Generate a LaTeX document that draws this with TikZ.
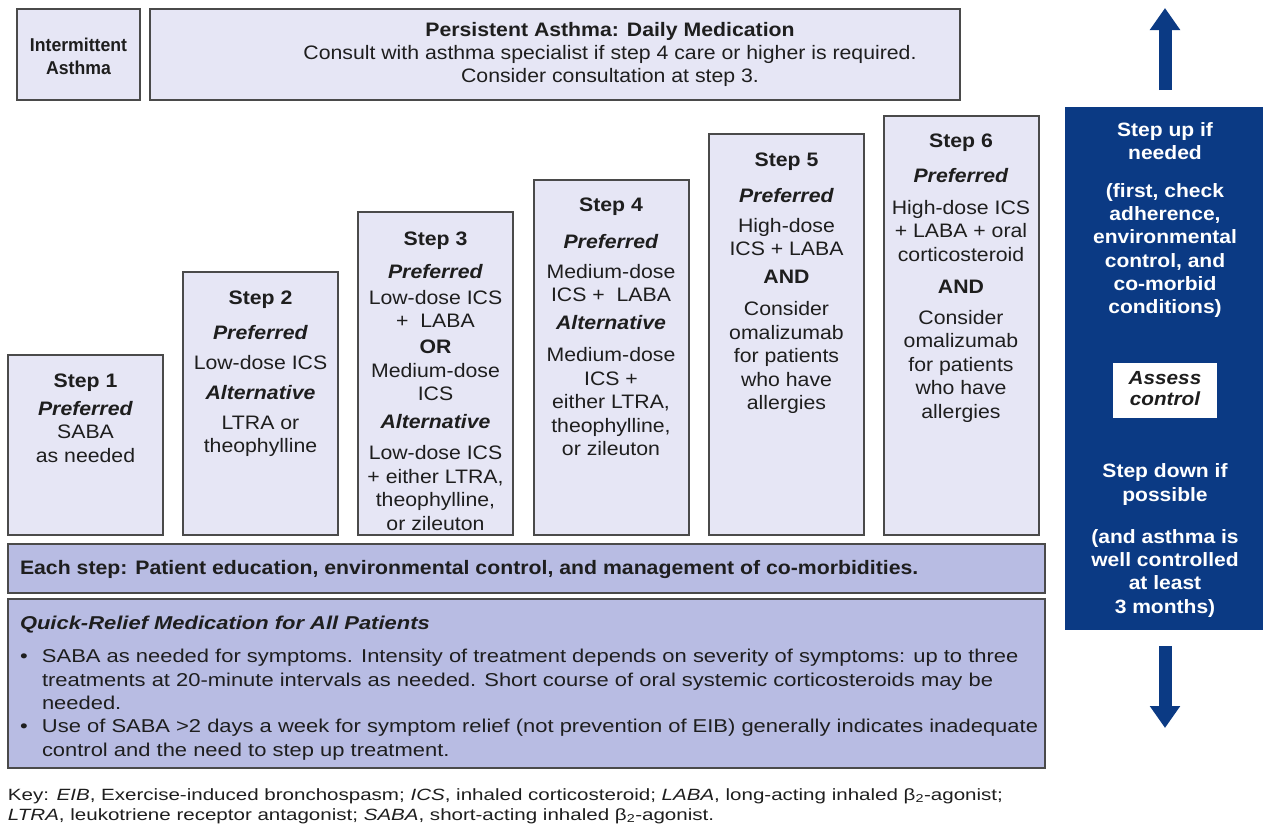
\documentclass[tikz,border=0pt]{standalone}
\usepackage{fontspec}
\setmainfont{Liberation Sans}
\newfontfamily\boxfont{Liberation Sans}[FakeStretch=1.09]
\newfontfamily\quickfont{Liberation Sans}[FakeStretch=1.18]
\newfontfamily\keyfont{Liberation Sans}[FakeStretch=1.26]
\newfontfamily\narrowfont{Liberation Sans}[FakeStretch=0.95]
\usetikzlibrary{arrows.meta}
\definecolor{panel}{HTML}{E6E6F5}
\definecolor{band}{HTML}{B8BCE3}
\definecolor{navy}{HTML}{0B3A84}
\definecolor{edge}{HTML}{4A4A4A}
\definecolor{ink}{HTML}{1E1E1E}
\begin{document}
\begin{tikzpicture}[x=1pt,y=-1pt,
  every node/.style={inner sep=0pt, outer sep=0pt},
  panelbox/.style={draw=edge, line width=1.5pt, fill=panel, anchor=north west},
  bandbox/.style={draw=edge, line width=1.5pt, fill=band, anchor=north west},
  body/.style={font=\boxfont\fontsize{19.5}{23.5}\selectfont, text=ink, align=center},
  navytext/.style={font=\boxfont\fontsize{19.3}{23.3}\selectfont\bfseries, text=white, align=center},
  bigarrow/.style={draw=navy, line width=13pt, -{Triangle[width=29pt,length=22pt]}}
]
\fill[white] (0,0) rectangle (1264,827);
\useasboundingbox (0,0) rectangle (1264,827);

% header boxes
\node[panelbox, minimum width=123pt, minimum height=91pt] (inter) at (17,9) {};
\node[body, font=\narrowfont\fontsize{18.6}{23}\selectfont\bfseries] (intertext) at (78.5,56.5) {Intermittent\\Asthma};
\node[panelbox, minimum width=810pt, minimum height=91pt] (persist) at (150,9) {};
\node[body, font=\boxfont\fontsize{19.5}{23}\selectfont] (persisttext) at (610,54) {\textbf{Persistent Asthma: Daily Medication}\\
  Consult with asthma specialist if step 4 care or higher is required.\\
  Consider consultation at step 3.};

% the six steps
\node[panelbox, minimum width=155pt, minimum height=180pt] (s1) at (8,355) {};
\node[panelbox, minimum width=155pt, minimum height=263pt] (s2) at (183,272) {};
\node[panelbox, minimum width=155pt, minimum height=323pt] (s3) at (358,212) {};
\node[panelbox, minimum width=155pt, minimum height=355pt] (s4) at (534,180) {};
\node[panelbox, minimum width=155pt, minimum height=401pt] (s5) at (709,134) {};
\node[panelbox, minimum width=155pt, minimum height=419pt] (s6) at (884,116) {};

\node[body, anchor=north] (s1text) at (85.5,373.5) {\textbf{Step 1}\\[4.5pt]
  \textbf{\textit{Preferred}}\\ SABA\\ as needed};
\node[body, anchor=north] (s2text) at (260.5,290.5) {\textbf{Step 2}\\[11.5pt]
  \textbf{\textit{Preferred}}\\[6.5pt] Low-dose ICS\\[6.5pt]
  \textbf{\textit{Alternative}}\\[6.5pt] LTRA or\\ theophylline};
\node[body, anchor=north] (s3text) at (435.5,231.5) {\textbf{Step 3}\\[9.5pt]
  \textbf{\textit{Preferred}}\\[2.5pt] Low-dose ICS\\ +\ \ LABA\\[2.5pt]
  \textbf{OR}\\ Medium-dose\\ ICS\\[4.5pt]
  \textbf{\textit{Alternative}}\\[7.5pt] Low-dose ICS\\ + either LTRA,\\
  theophylline,\\ or zileuton};
\node[body, anchor=north] (s4text) at (611,197.5) {\textbf{Step 4}\\[13.5pt]
  \textbf{\textit{Preferred}}\\[6.5pt] Medium-dose\\ ICS +\ \ LABA\\[4.5pt]
  \textbf{\textit{Alternative}}\\[8.5pt] Medium-dose\\ ICS +\\ either LTRA,\\
  theophylline,\\ or zileuton};
\node[body, anchor=north] (s5text) at (786.5,152.5) {\textbf{Step 5}\\[12.5pt]
  \textbf{\textit{Preferred}}\\[6.5pt] High-dose\\ ICS + LABA\\[4.5pt]
  \textbf{AND}\\[8.5pt] Consider\\ omalizumab\\ for patients\\ who have\\ allergies};
\node[body, anchor=north] (s6text) at (961,133.5) {\textbf{Step 6}\\[11.5pt]
  \textbf{\textit{Preferred}}\\[8.5pt] High-dose ICS\\ + LABA + oral\\ corticosteroid\\[8.5pt]
  \textbf{AND}\\[7.5pt] Consider\\ omalizumab\\ for patients\\ who have\\ allergies};

% lower bands
\node[bandbox, minimum width=1037pt, minimum height=49pt] (each) at (8,544) {};
\node[body, anchor=west, font=\boxfont\fontsize{19.5}{23}\selectfont\bfseries] (eachtext) at (20,569)
  {Each step: Patient education, environmental control, and management of co-morbidities.};
\node[bandbox, minimum width=1037pt, minimum height=169pt] (quick) at (8,599) {};
\node[body, anchor=west, font=\quickfont\fontsize{18.6}{23}\selectfont\bfseries\itshape] (quicktitle) at (20,625)
  {Quick-Relief Medication for All Patients};
\node[body, anchor=north west, align=left, font=\quickfont\fontsize{18.6}{23.3}\selectfont] (quicktext) at (20,649.5)
  {\makebox[22pt][l]{\textbullet}SABA as needed for symptoms. Intensity of treatment depends on severity of symptoms: up to three\\
   \hspace*{22pt}treatments at 20-minute intervals as needed. Short course of oral systemic corticosteroids may be\\
   \hspace*{22pt}needed.\\
   \makebox[22pt][l]{\textbullet}Use of SABA >2 days a week for symptom relief (not prevention of EIB) generally indicates inadequate\\
   \hspace*{22pt}control and the need to step up treatment.};

% step up / step down column
\node[fill=navy, anchor=north west, minimum width=198pt, minimum height=523pt] (ctrl) at (1065,107) {};
\node[navytext] (uptext) at (1165,220) {Step up if\\ needed\\[14.5pt]
  (first, check\\ adherence,\\ environmental\\ control, and\\ co-morbid\\ conditions)};
\node[fill=white, anchor=north west, minimum width=104pt, minimum height=55pt] (assess) at (1113,363) {};
\node[body, font=\boxfont\fontsize{19}{21}\selectfont\bfseries\itshape] (assesstext) at (1165,388.5) {Assess\\ control};
\node[navytext] (downtext) at (1165,540.5) {Step down if\\ possible\\[19pt]
  (and asthma is\\ well controlled\\ at least\\ 3 months)};
\coordinate (upfrom) at (1165,90);
\coordinate (upto) at (1165,8);
\draw[bigarrow] (upfrom) -- (upto);
\coordinate (downfrom) at (1165,646);
\coordinate (downto) at (1165,728);
\draw[bigarrow] (downfrom) -- (downto);

% abbreviations
\node[body, anchor=north west, align=left, font=\keyfont\fontsize{16.3}{20}\selectfont] (keytext) at (8,788.5)
  {Key: \textit{EIB}, Exercise-induced bronchospasm; \textit{ICS}, inhaled corticosteroid; \textit{LABA}, long-acting inhaled β\textsubscript{2}-agonist;\\
   \textit{LTRA}, leukotriene receptor antagonist; \textit{SABA}, short-acting inhaled β\textsubscript{2}-agonist.};
\end{tikzpicture}
\end{document}
